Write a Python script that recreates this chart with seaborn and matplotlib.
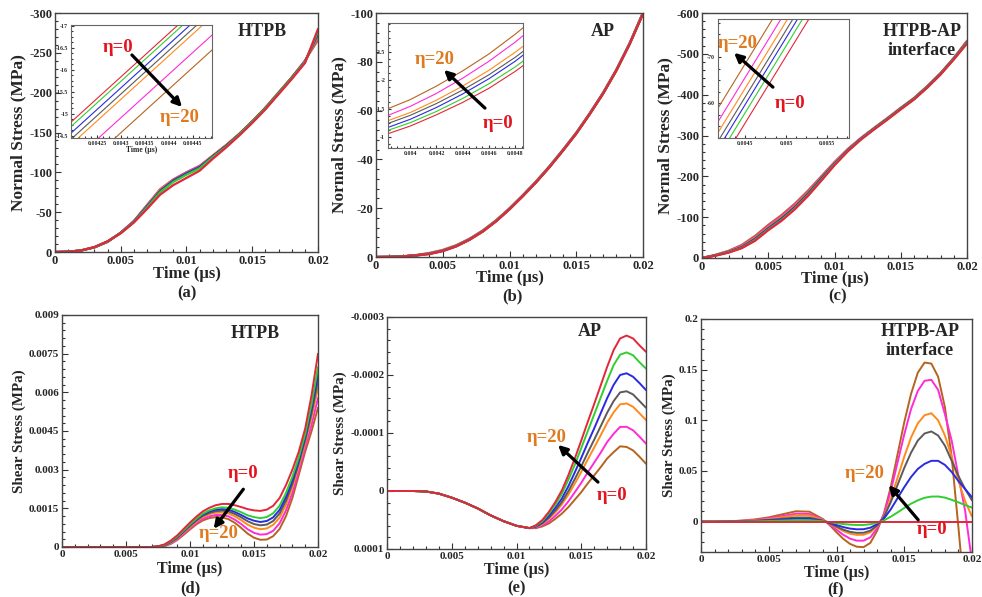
import numpy as np
import pandas as pd
import matplotlib
matplotlib.use("Agg")
import matplotlib.pyplot as plt
from matplotlib.ticker import FuncFormatter, MultipleLocator, AutoMinorLocator
from matplotlib.patches import FancyArrowPatch
import seaborn as sns

# ---------------- data ----------------
SERIES = ["η=0", "curve 2", "curve 3", "curve 4", "curve 5", "curve 6", "η=20"]
COLORS = ["#e3263a", "#2fcf2f", "#2a2ae0", "#5a5a5a", "#ff8a1c", "#ff2bd6", "#b5641f"]

T_NORMAL = [0.0, 0.001, 0.002, 0.003, 0.004, 0.005, 0.006, 0.007, 0.008, 0.009, 0.010,
            0.011, 0.012, 0.013, 0.014, 0.015, 0.016, 0.017, 0.018, 0.019, 0.020]

HTPB_NORMAL = [
    [0, -0.3, -2.1, -6.2, -13.5, -23.5, -37, -54, -72, -84, -93, -102, -117, -131, -146, -162, -179, -198, -217, -237, -280],
    [0, -0.3, -2.1, -6.1, -13.3, -23.8, -37.5, -56, -75, -88, -97, -105, -119, -132, -147, -163, -180, -199, -218, -238, -277],
    [0, -0.3, -2.0, -6.0, -13.2, -24.0, -38, -57, -76, -89, -98, -106, -120, -133, -147, -163, -180, -199, -218, -238, -275],
    [0, -0.3, -2.0, -6.0, -13.1, -24.0, -38, -57.5, -77, -90, -99, -107, -120, -133, -148, -164, -181, -200, -219, -239, -273],
    [0, -0.3, -2.0, -5.9, -13.0, -24.2, -38.5, -58, -78, -90, -99, -107, -121, -134, -148, -164, -181, -200, -219, -239, -271],
    [0, -0.3, -1.9, -5.8, -12.8, -24.3, -38.8, -58.5, -78.5, -91, -100, -108, -121, -134, -148, -164, -181, -200, -219, -240, -269],
    [0, -0.3, -1.9, -5.7, -12.6, -24.5, -39, -59, -79, -91, -100, -108, -121, -134, -148, -164, -181, -200, -219, -240, -266],
]

AP_NORMAL = [
    [0, -0.04, -0.22, -0.62, -1.20, -2.40, -4.30, -7.00, -10.40, -14.60, -19.50, -24.90, -30.60, -36.80, -43.50, -50.50, -58.40, -66.80, -76.30, -87.20, -99.6],
    [0, -0.04, -0.23, -0.64, -1.25, -2.45, -4.35, -7.05, -10.45, -14.65, -19.55, -24.95, -30.65, -36.85, -43.55, -50.55, -58.45, -66.85, -76.35, -87.25, -99.7],
    [0, -0.05, -0.24, -0.67, -1.31, -2.52, -4.42, -7.12, -10.52, -14.72, -19.62, -25.02, -30.72, -36.92, -43.62, -50.62, -58.52, -66.92, -76.42, -87.32, -99.8],
    [0, -0.05, -0.25, -0.69, -1.38, -2.58, -4.48, -7.18, -10.58, -14.78, -19.68, -25.08, -30.78, -36.98, -43.68, -50.68, -58.58, -66.98, -76.48, -87.38, -99.9],
    [0, -0.05, -0.26, -0.72, -1.43, -2.65, -4.55, -7.25, -10.65, -14.85, -19.75, -25.15, -30.85, -37.05, -43.75, -50.75, -58.65, -67.05, -76.55, -87.45, -100.0],
    [0, -0.06, -0.28, -0.76, -1.54, -2.78, -4.68, -7.38, -10.78, -14.98, -19.88, -25.28, -30.98, -37.18, -43.88, -50.88, -58.78, -67.18, -76.68, -87.58, -100.1],
    [0, -0.06, -0.30, -0.80, -1.65, -2.90, -4.80, -7.50, -10.90, -15.10, -20.00, -25.40, -31.10, -37.30, -44.00, -51.00, -58.90, -67.30, -76.80, -87.70, -100.3],
]

INTERFACE_NORMAL = [
    [0, -5.5, -13.0, -24, -42, -68, -91, -119, -152, -189, -227, -261, -290, -315, -339, -364, -388, -417, -449, -486, -525],
    [0, -6.0, -14.0, -25, -44, -70, -93, -121, -154, -191, -229, -262, -291, -316, -340, -365, -389, -418, -450, -487, -527],
    [0, -6.2, -14.5, -26, -46, -72, -95, -123, -156, -193, -230, -263, -292, -317, -341, -366, -390, -419, -451, -488, -528],
    [0, -6.5, -15.0, -27, -47, -73, -97, -125, -158, -195, -231, -264, -292, -317, -341, -366, -390, -419, -451, -488, -529],
    [0, -6.8, -15.5, -28, -49, -75, -99, -127, -160, -196, -232, -265, -293, -318, -342, -367, -391, -420, -452, -489, -530],
    [0, -7.2, -16.5, -30, -51, -78, -102, -130, -162, -198, -234, -266, -294, -318, -342, -367, -391, -420, -452, -489, -531],
    [0, -7.6, -17.5, -32, -54, -81, -105, -133, -165, -200, -235, -267, -294, -319, -343, -368, -392, -421, -453, -490, -532],
]

# zoomed insets of the normal stress
T_INSET_A = [0.0041, 0.0046]
INSET_A = [[-13.86, -18.81], [-13.76, -18.71], [-13.61, -18.56], [-13.47, -18.42],
           [-13.35, -18.30], [-12.93, -17.88], [-12.59, -17.54]]

T_INSET_B = [0.0038, 0.0040, 0.0042, 0.0044, 0.0046, 0.0048, 0.0050]
INSET_B = [
    [-1.03, -1.19, -1.39, -1.61, -1.86, -2.16, -2.50],
    [-1.09, -1.25, -1.45, -1.68, -1.94, -2.24, -2.58],
    [-1.14, -1.31, -1.52, -1.76, -2.03, -2.34, -2.70],
    [-1.21, -1.38, -1.59, -1.83, -2.10, -2.41, -2.76],
    [-1.26, -1.43, -1.65, -1.90, -2.18, -2.50, -2.85],
    [-1.35, -1.54, -1.77, -2.04, -2.34, -2.68, -3.06],
    [-1.47, -1.66, -1.90, -2.17, -2.47, -2.82, -3.20],
]

T_INSET_C = [0.0040, 0.0045, 0.0050, 0.0055]
INSET_C = [
    [-41.07, -55.61, -70.15, -84.69],
    [-43.31, -57.85, -72.39, -86.93],
    [-45.08, -59.62, -74.16, -88.70],
    [-46.74, -61.28, -75.82, -90.36],
    [-48.63, -63.17, -77.71, -92.25],
    [-50.99, -65.53, -80.07, -94.61],
    [-53.95, -68.49, -83.03, -97.57],
]

# shear stress, HTPB (values x 1e-4 MPa)
T_SHEAR_HTPB = [0.0, 0.007, 0.0075, 0.008, 0.0085, 0.009, 0.0095, 0.010, 0.0105, 0.011, 0.0115, 0.012,
                0.0125, 0.013, 0.0135, 0.014, 0.0145, 0.015, 0.0155, 0.016, 0.0165, 0.017, 0.0175,
                0.018, 0.0185, 0.019, 0.0195, 0.020]
SHEAR_HTPB_E4 = [
    [0, 0, 0.3, 1.0, 2.5, 4.5, 7.0, 9.5, 11.8, 13.8, 15.2, 16.2, 16.7, 16.7, 16.2, 15.5, 14.7, 14.2, 14.0, 14.5, 16.0, 19.0, 24.0, 30.0, 37.0, 46.0, 59.0, 75.0],
    [0, 0, 0.2, 0.83, 2.2, 4.05, 6.4, 8.8, 11.0, 12.9, 14.2, 15.0, 15.4, 15.2, 14.5, 13.5, 12.3, 11.6, 11.2, 11.6, 13.1, 16.0, 21.0, 27.3, 34.8, 43.8, 55.5, 69.8],
    [0, 0, 0.2, 0.73, 2.0, 3.8, 6.1, 8.5, 10.7, 12.5, 13.7, 14.5, 14.7, 14.5, 13.6, 12.4, 11.1, 10.2, 9.7, 10.1, 11.5, 14.4, 19.4, 25.8, 33.6, 42.6, 53.7, 67.0],
    [0, 0, 0.2, 0.65, 1.9, 3.6, 5.9, 8.2, 10.3, 12.1, 13.2, 13.9, 14.1, 13.8, 12.8, 11.5, 10.0, 8.9, 8.4, 8.7, 10.1, 13.0, 18.0, 24.5, 32.5, 41.5, 52.0, 64.5],
    [0, 0, 0.1, 0.56, 1.7, 3.4, 5.6, 7.8, 9.9, 11.6, 12.7, 13.3, 13.4, 13.0, 11.9, 10.4, 8.7, 7.5, 6.9, 7.2, 8.6, 11.4, 16.4, 23.1, 31.3, 40.3, 50.2, 61.8],
    [0, 0, 0.1, 0.43, 1.4, 3.0, 5.1, 7.3, 9.3, 10.9, 11.9, 12.4, 12.4, 11.9, 10.6, 8.9, 6.9, 5.5, 4.8, 5.0, 6.3, 9.2, 14.2, 21.0, 29.6, 38.6, 47.5, 57.8],
    [0, 0, 0.0, 0.3, 1.2, 2.7, 4.7, 6.8, 8.8, 10.3, 11.2, 11.6, 11.5, 10.8, 9.4, 7.4, 5.2, 3.6, 2.8, 2.9, 4.2, 7.0, 12.0, 19.0, 28.0, 37.0, 45.0, 54.0],
]

# shear stress, AP (values x 1e-6 MPa)
T_SHEAR_AP = [0.0, 0.001, 0.002, 0.003, 0.004, 0.005, 0.006, 0.007, 0.008, 0.009, 0.010, 0.011,
              0.0115, 0.012, 0.0125, 0.013, 0.0135, 0.014, 0.0145, 0.015, 0.0155, 0.016, 0.0165,
              0.017, 0.0175, 0.018, 0.0185, 0.019, 0.0195, 0.020]
SHEAR_AP_E6 = [
    [0, 0, 0, 0.8, 4.5, 11.5, 20, 30, 42, 52, 60, 64, 59, 50, 36, 19, -1, -27, -56, -87, -119, -150, -182, -214, -243, -263, -268, -263, -251, -240],
    [0, 0, 0, 0.8, 4.5, 11.5, 20, 30, 42, 52, 60, 64, 60, 52, 39, 23, 5, -19, -45, -74, -103, -132, -161, -190, -217, -235, -239, -234, -222, -211],
    [0, 0, 0, 0.8, 4.5, 11.5, 20, 30, 42, 52, 60, 64, 61, 54, 43, 29, 13, -8, -32, -57, -83, -108, -134, -160, -183, -200, -203, -197, -186, -174],
    [0, 0, 0, 0.8, 4.5, 11.5, 20, 30, 42, 52, 60, 64, 61.5, 55.5, 46, 33.5, 19, 0.5, -20.5, -42.5, -66, -88.5, -111.5, -135, -155, -170, -172, -166.5, -155, -143.5],
    [0, 0, 0, 0.8, 4.5, 11.5, 20, 30, 42, 52, 60, 64, 62, 57, 48, 37, 23, 6.5, -12.7, -32.7, -54.3, -75, -96, -117.6, -135.6, -149.5, -150.9, -145.3, -133.9, -122.3],
    [0, 0, 0, 0.8, 4.5, 11.5, 20, 30, 42, 52, 60, 64, 63, 59, 52.4, 42.8, 31.8, 18.1, 2.2, -14, -32, -49, -66, -84.4, -98.7, -110.5, -110.6, -104.7, -93.6, -81.7],
    [0, 0, 0, 0.8, 4.5, 11.5, 20, 30, 42, 52, 60, 64, 64, 61, 56, 48, 39, 28, 15, 2, -13, -27, -41, -56, -67, -77, -76, -70, -59, -47],
]

# shear stress, HTPB-AP interface (MPa)
T_SHEAR_INT = [0.0, 0.001, 0.002, 0.003, 0.004, 0.005, 0.006, 0.007, 0.008, 0.009, 0.0095, 0.010,
               0.0105, 0.011, 0.0115, 0.012, 0.0125, 0.013, 0.0135, 0.014, 0.0145, 0.015, 0.0155,
               0.016, 0.0165, 0.017, 0.0175, 0.018, 0.0185, 0.019, 0.0195, 0.020]
SHEAR_INT = [
    [0, 0, 0, 0, 0, 0, 0, 0, 0, 0, 0, 0, 0, 0, 0, 0, 0, 0, 0, 0, 0, 0, 0, 0, 0, 0, 0, 0, 0, 0, 0, 0],
    [0, 0, 0, 0.0001, 0.0003, 0.0006, 0.001, 0.0015, 0.0014, 0.0004, -0.0005, -0.0015, -0.0024, -0.003, -0.0033, -0.0033, -0.0026, -0.0011, 0.0012, 0.0048, 0.009, 0.0135, 0.0177, 0.021, 0.0235, 0.0247, 0.0248, 0.0237, 0.0215, 0.019, 0.0163, 0.0138],
    [0, 0, 0.0001, 0.0003, 0.0006, 0.0012, 0.002, 0.0028, 0.0027, 0.0007, -0.0012, -0.0034, -0.0054, -0.0069, -0.0076, -0.0075, -0.006, -0.0025, 0.003, 0.012, 0.023, 0.034, 0.044, 0.052, 0.057, 0.06, 0.06, 0.056, 0.049, 0.04, 0.032, 0.024],
    [0, 0, 0.0001, 0.0004, 0.0009, 0.0017, 0.0029, 0.004, 0.0039, 0.001, -0.0017, -0.0049, -0.0079, -0.0101, -0.0111, -0.011, -0.0089, -0.0038, 0.0045, 0.019, 0.036, 0.053, 0.068, 0.08, 0.087, 0.089, 0.085, 0.075, 0.06, 0.045, 0.032, 0.021],
    [0, 0, 0.0002, 0.0006, 0.0013, 0.0025, 0.0043, 0.0062, 0.006, 0.0016, -0.002, -0.0058, -0.0093, -0.0119, -0.0131, -0.013, -0.0105, -0.0045, 0.005, 0.022, 0.043, 0.064, 0.083, 0.097, 0.105, 0.107, 0.1, 0.085, 0.064, 0.04, 0.02, 0.005],
    [0, 0, 0.0002, 0.0008, 0.0017, 0.0032, 0.0055, 0.0078, 0.0075, 0.002, -0.0027, -0.008, -0.013, -0.0168, -0.0188, -0.0188, -0.0155, -0.0065, 0.007, 0.03, 0.058, 0.086, 0.111, 0.129, 0.139, 0.14, 0.13, 0.106, 0.08, 0.045, 0.01, -0.04],
    [0, 0, 0.0003, 0.001, 0.0022, 0.0042, 0.0072, 0.0102, 0.0098, 0.0025, -0.0035, -0.0105, -0.017, -0.022, -0.0248, -0.0252, -0.021, -0.009, 0.008, 0.034, 0.066, 0.098, 0.126, 0.147, 0.157, 0.156, 0.143, 0.113, 0.064, -0.006, -0.08, -0.16],
]

# ---------------- helpers ----------------
W, H = 982, 597
sns.set_theme(style="ticks")
plt.rcParams["font.family"] = ["Liberation Serif", "DejaVu Serif"]
plt.rcParams["font.weight"] = "bold"
plt.rcParams["axes.labelweight"] = "bold"

fig = plt.figure(figsize=(W / 100, H / 100), dpi=100)
fig.patch.set_facecolor("white")

PALETTE = dict(zip(SERIES, COLORS))
ORANGE_TXT = "#e07a1f"
RED_TXT = "#e3141e"


def rect(l, t, r, b):
    return [l / W, 1 - b / H, (r - l) / W, (b - t) / H]


def fxy(x, y):
    return (x / W, 1 - y / H)


def long_df(t, curves, scale=1.0):
    rows = []
    for name, vals in zip(SERIES, curves):
        for ti, v in zip(t, vals):
            rows.append({"t": ti, "v": v * scale, "series": name})
    return pd.DataFrame(rows)


def fmt(v, _):
    if abs(v) < 1e-12:
        return "0"
    return f"{v:g}"


def draw(ax, t, curves, lw, scale=1.0):
    df = long_df(t, curves, scale)
    sns.lineplot(data=df, x="t", y="v", hue="series", hue_order=SERIES[::-1],
                 palette=PALETTE, estimator=None, sort=False, legend=False,
                 linewidth=lw, ax=ax)
    ax.set_xlabel("")
    ax.set_ylabel("")


def style(ax, fs, major_len=4, minor_len=2):
    for s in ax.spines.values():
        s.set_color("#444444")
        s.set_linewidth(1.0)
    ax.tick_params(which="both", direction="in", top=False, right=False,
                   labelsize=fs, color="#333333", width=0.8, pad=2)
    ax.tick_params(which="major", length=major_len)
    ax.tick_params(which="minor", length=minor_len)
    ax.xaxis.set_major_formatter(FuncFormatter(fmt))
    ax.yaxis.set_major_formatter(FuncFormatter(fmt))
    ax.set_facecolor("white")
    ax.grid(False)


def main_axes(pos, t, curves, ylim, ystep, ylabel, xlabel_top, scale=1.0, lw=1.6,
              ylabel_fs=12.5, tick_fs=9, xlabel_fs=12):
    ax = fig.add_axes(rect(*pos))
    draw(ax, t, curves, lw, scale)
    ax.set_xlim(0, 0.02)
    ax.set_ylim(*ylim)
    ax.xaxis.set_major_locator(MultipleLocator(0.005))
    ax.xaxis.set_minor_locator(AutoMinorLocator(5))
    ax.yaxis.set_major_locator(MultipleLocator(ystep))
    ax.yaxis.set_minor_locator(AutoMinorLocator(5))
    style(ax, tick_fs)
    ax.set_xlabel("Time (µs)", fontsize=xlabel_fs, fontweight="bold", va="top")
    l, t_, r, b = pos
    ax.xaxis.set_label_coords(0.5, -(xlabel_top - b) / (b - t_))
    ax.set_ylabel(ylabel, fontsize=ylabel_fs, fontweight="bold", labelpad=2)
    return ax


def inset_axes(pos, t, curves, xlim, ylim, xticks, yticks, xlabel=None):
    ax = fig.add_axes(rect(*pos))
    draw(ax, t, curves, 0.8)
    ax.set_xlim(*xlim)
    ax.set_ylim(*ylim)
    ax.set_xticks(xticks)
    ax.set_yticks(yticks)
    ax.xaxis.set_minor_locator(AutoMinorLocator(4))
    ax.yaxis.set_minor_locator(AutoMinorLocator(4))
    style(ax, 4.2, major_len=2.5, minor_len=1.2)
    for s in ax.spines.values():
        s.set_color("#666666")
        s.set_linewidth(0.8)
    if xlabel:
        ax.set_xlabel(xlabel, fontsize=5.5, fontweight="bold", labelpad=0)
    return ax


def arrow(x1, y1, x2, y2):
    fig.add_artist(FancyArrowPatch(fxy(x1, y1), fxy(x2, y2), transform=fig.transFigure,
                                   arrowstyle="-|>", mutation_scale=13, lw=2.3,
                                   color="black", zorder=10))


def label(x, y, s, color, fs=13.5):
    fig.text(*fxy(x, y), s, color=color, fontsize=fs, fontweight="bold",
             ha="center", va="center", zorder=11)


# ---------------- panels ----------------
ax_a = main_axes((55, 13, 318, 252), T_NORMAL, HTPB_NORMAL, (0, -300), 50,
                 "Normal Stress (MPa)", 266)
ax_b = main_axes((376, 13, 643, 257), T_NORMAL, AP_NORMAL, (0, -100), 20,
                 "Normal Stress (MPa)", 270)
ax_c = main_axes((702, 13, 967, 258), T_NORMAL, INTERFACE_NORMAL, (0, -600), 100,
                 "Normal Stress (MPa)", 271)
ax_d = main_axes((62, 315, 318, 547), T_SHEAR_HTPB, SHEAR_HTPB_E4, (0, 0.009), 0.0015,
                 "Shear Stress (MPa)", 561, scale=1e-4, lw=1.4, ylabel_fs=10.8,
                 tick_fs=8, xlabel_fs=11.5)
ax_e = main_axes((387, 317, 646, 549), T_SHEAR_AP, SHEAR_AP_E6, (0.0001, -0.0003), 0.0001,
                 "Shear Stress (MPa)", 562, scale=1e-6, lw=1.4, ylabel_fs=10.8,
                 tick_fs=8, xlabel_fs=11.5)
ax_f = main_axes((701, 319, 972, 552), T_SHEAR_INT, SHEAR_INT, (-0.03, 0.2), 0.05,
                 "Shear Stress (MPa)", 565, lw=1.4, ylabel_fs=10.8, tick_fs=8,
                 xlabel_fs=11.5)

# insets
in_a = inset_axes((71, 25, 212, 138), T_INSET_A, INSET_A, (0.004196, 0.00449), (-14.45, -17.02),
                  [0.00425, 0.0043, 0.00435, 0.0044, 0.00445], [-17, -16.5, -16, -15.5, -15, -14.5],
                  xlabel="Time (µs)")
in_b = inset_axes((388, 23, 523, 148), T_INSET_B, INSET_B, (0.00383, 0.00486), (-0.8, -3.02),
                  [0.004, 0.0042, 0.0044, 0.0046, 0.0048], [-2.5, -2, -1.5, -1])
in_c = inset_axes((718, 19, 849, 138), T_INSET_C, INSET_C, (0.00417, 0.00577), (-52.4, -78.3),
                  [0.0045, 0.005, 0.0055], [-60, -70])

# titles
fig.text(*fxy(262, 32), "HTPB", fontsize=13, fontweight="bold", ha="center", va="center")
fig.text(*fxy(603, 32), "AP", fontsize=13, fontweight="bold", ha="center", va="center")
fig.text(*fxy(922, 41), "HTPB-AP\ninterface", fontsize=13, fontweight="bold", ha="center",
         va="center", linespacing=1.1)
fig.text(*fxy(255, 333), "HTPB", fontsize=13, fontweight="bold", ha="center", va="center")
fig.text(*fxy(590, 331), "AP", fontsize=13, fontweight="bold", ha="center", va="center")
fig.text(*fxy(920, 341), "HTPB-AP\ninterface", fontsize=13, fontweight="bold", ha="center",
         va="center", linespacing=1.1)

# panel letters
for (x, y, s) in [(187, 293, "(a)"), (512, 296, "(b)"), (838, 296, "(c)"),
                  (190, 588, "(d)"), (517, 588, "(e)"), (836, 589, "(f)")]:
    fig.text(*fxy(x, y), s, fontsize=12, fontweight="bold", ha="center", va="center")

# eta annotations
label(118, 48, "η=0", RED_TXT)
label(180, 117, "η=20", ORANGE_TXT)
arrow(130, 53, 184, 109)

label(435, 60, "η=20", ORANGE_TXT)
label(498, 123, "η=0", RED_TXT)
arrow(487, 110, 442, 68)

label(738, 43, "η=20", ORANGE_TXT)
label(790, 103, "η=0", RED_TXT)
arrow(775, 89, 732, 51)

label(243, 473, "η=0", RED_TXT)
label(219, 533, "η=20", ORANGE_TXT)
arrow(245, 487, 212, 531)

label(547, 437, "η=20", ORANGE_TXT)
label(612, 495, "η=0", RED_TXT)
arrow(600, 484, 556, 443)

label(865, 473, "η=20", ORANGE_TXT)
label(932, 530, "η=0", RED_TXT)
arrow(920, 522, 887, 483)

fig.savefig("out.png", dpi=100, facecolor="white")
